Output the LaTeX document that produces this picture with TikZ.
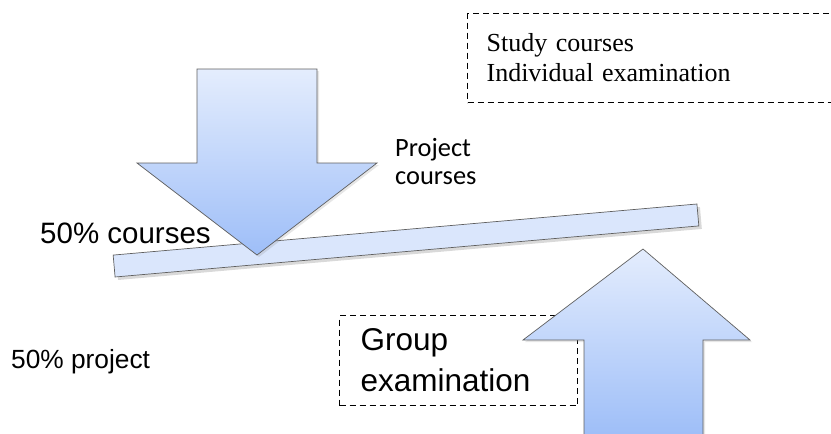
\documentclass[tikz,border=0pt]{standalone}
\usepackage{fontspec}
\usepackage{tikz}
\usetikzlibrary{shadows}
\newfontfamily\arialfont{Liberation Sans}
\newfontfamily\calibrifont{Carlito}
\newfontfamily\timesfont{Liberation Serif}
\definecolor{arrowtop}{RGB}{228,237,253}
\definecolor{arrowbot}{RGB}{158,190,248}
\definecolor{beamfill}{RGB}{218,230,252}
\definecolor{edgegray}{RGB}{95,95,95}

\begin{document}
\begin{tikzpicture}[x=1pt,y=-1pt,
    bigarrow/.style={top color=arrowtop, bottom color=arrowbot, draw=edgegray, line width=0.7pt,
        drop shadow={opacity=0.2, shadow xshift=2pt, shadow yshift=-2pt}},
    dashbox/.style={draw, dash pattern=on 6pt off 4pt, line width=1.2pt, anchor=north west, align=left}]
    \useasboundingbox (0,0) rectangle (831,434);
    \node (beam) at (406,240.5) [rotate=5, draw=edgegray, fill=beamfill, line width=0.7pt, inner sep=0pt,
        minimum width=586pt, minimum height=22pt,
        drop shadow={opacity=0.3, shadow xshift=3pt, shadow yshift=-3pt}] {};
    \path[bigarrow] (197,69) -- (317,69) -- (317,163) -- (377,163) -- (257,255) -- (137,163) -- (197,163) -- cycle;
    \node (studybox) [dashbox, inner xsep=19pt, text width=328pt, minimum height=89pt,
        font=\timesfont\fontsize{26}{30}\selectfont] at (467,13) {Study courses\\Individual examination};
    \node (groupbox) [dashbox, inner xsep=21pt, text width=196pt, minimum height=90pt,
        font=\arialfont\fontsize{31.5}{41}\selectfont] at (339,315) {Group\\examination};
    \path[bigarrow] (643,249) -- (750,340) -- (703,340) -- (703,436) -- (584,436) -- (584,340) -- (523,340) -- cycle;
    \node (projlabel) [anchor=north west, inner sep=0pt, align=left,
        font=\calibrifont\fontsize{26.4}{28}\selectfont] at (395,138) {Project\\courses};
    \node (coursesfifty) [anchor=base west, inner sep=0pt, font=\arialfont\fontsize{29.5}{34}\selectfont] at (40,243) {50\% courses};
    \node (projectfifty) [anchor=base west, inner sep=0pt, font=\arialfont\fontsize{26.3}{30}\selectfont] at (11,368) {50\% project};
\end{tikzpicture}
\end{document}
